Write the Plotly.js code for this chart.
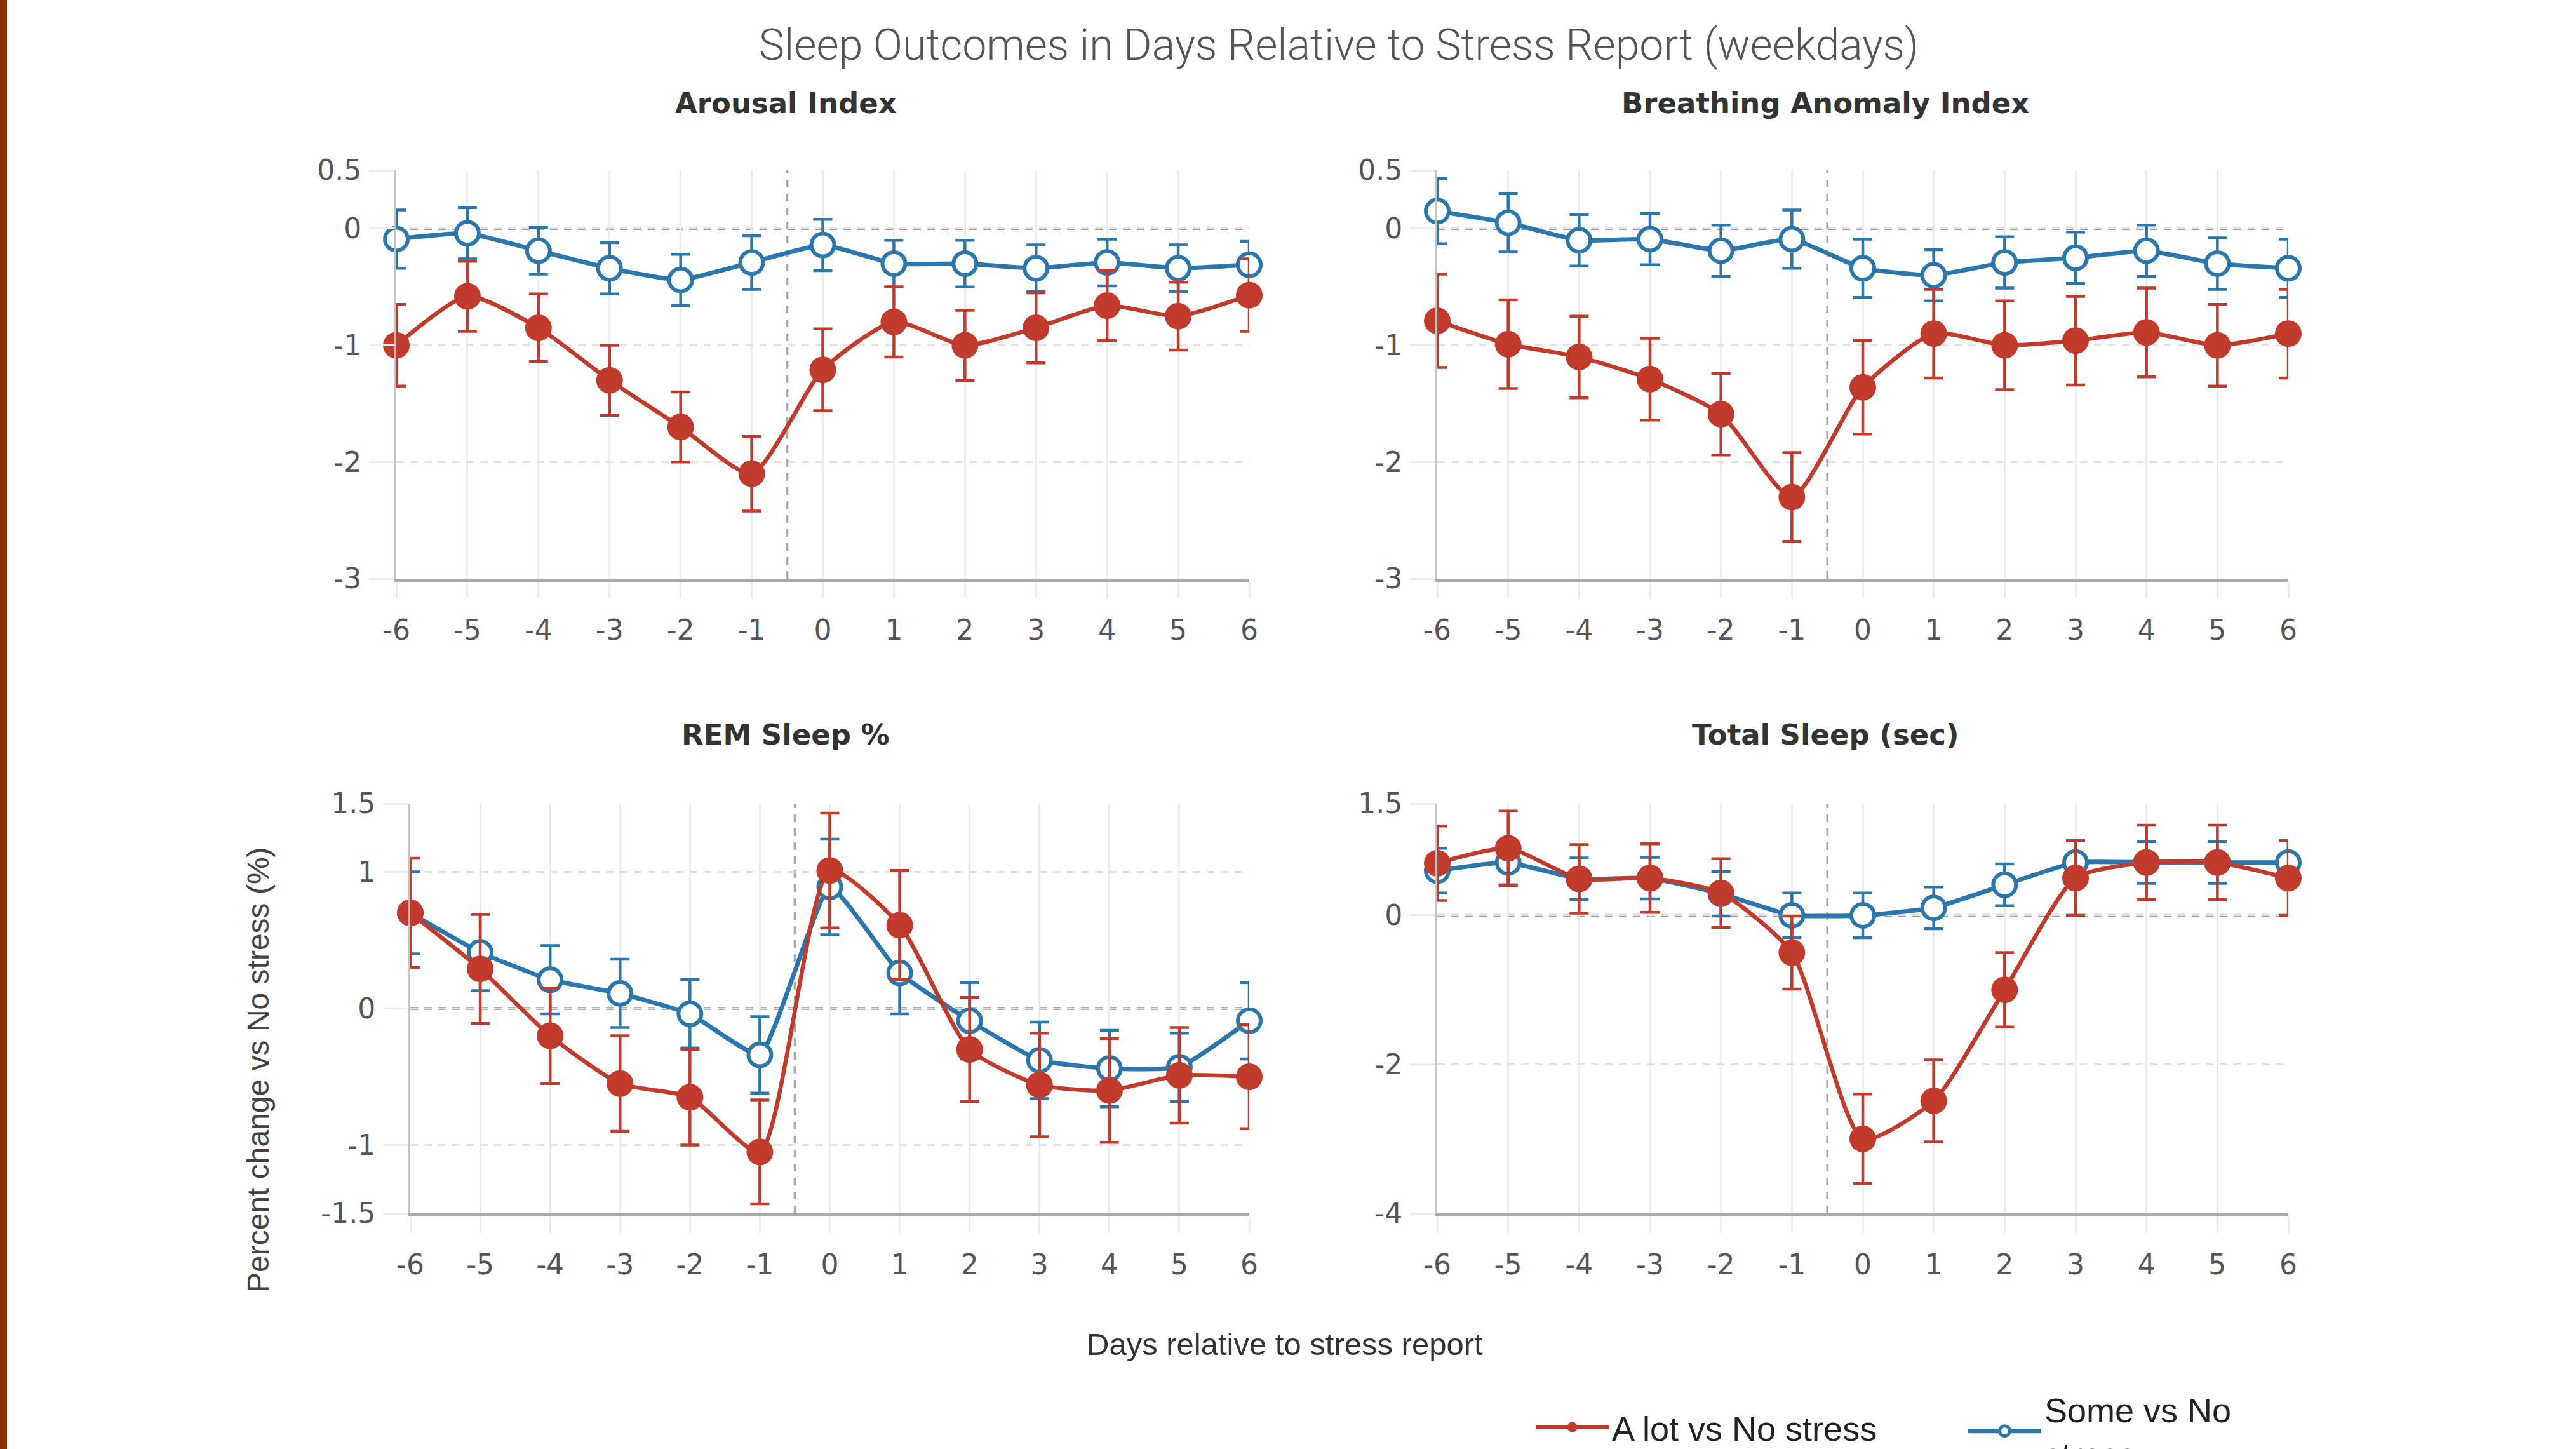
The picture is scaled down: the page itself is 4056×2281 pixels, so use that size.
<!DOCTYPE html>
<html>
<head>
<meta charset="utf-8">
<script src="https://cdn.plot.ly/plotly-3.0.1.min.js"></script>
<style>html,body{margin:0;padding:0;background:#fff;}#chart{width:4056px;height:2281px;}</style>
</head>
<body>
<div id="chart"></div>
<script>
// ---------- data ----------
const days = [-6, -5, -4, -3, -2, -1, 0, 1, 2, 3, 4, 5, 6];
const dayLabels = ["-6", "-5", "-4", "-3", "-2", "-1", "0", "1", "2", "3", "4", "5", "6"];

const panelTitles = ["Arousal Index", "Breathing Anomaly Index", "REM Sleep %", "Total Sleep (sec)"];
const seriesNames = ["A lot vs No stress", "Some vs No<br>stress"];

const arousalAlot    = [-1.00, -0.58, -0.85, -1.30, -1.70, -2.10, -1.21, -0.80, -1.00, -0.85, -0.66, -0.75, -0.57];
const arousalAlotErr = [0.35, 0.30, 0.29, 0.30, 0.30, 0.32, 0.35, 0.30, 0.30, 0.30, 0.30, 0.29, 0.31];
const arousalSome    = [-0.09, -0.04, -0.19, -0.34, -0.44, -0.29, -0.14, -0.30, -0.30, -0.34, -0.29, -0.34, -0.31];
const arousalSomeErr = [0.25, 0.22, 0.20, 0.22, 0.22, 0.23, 0.22, 0.20, 0.20, 0.20, 0.20, 0.20, 0.20];

const breathAlot    = [-0.79, -0.99, -1.10, -1.29, -1.59, -2.30, -1.36, -0.90, -1.00, -0.96, -0.89, -1.00, -0.90];
const breathAlotErr = [0.40, 0.38, 0.35, 0.35, 0.35, 0.38, 0.40, 0.38, 0.38, 0.38, 0.38, 0.35, 0.38];
const breathSome    = [0.15, 0.05, -0.10, -0.09, -0.19, -0.09, -0.34, -0.40, -0.29, -0.25, -0.19, -0.30, -0.34];
const breathSomeErr = [0.28, 0.25, 0.22, 0.22, 0.22, 0.25, 0.25, 0.22, 0.22, 0.22, 0.22, 0.22, 0.25];

const remAlot    = [0.70, 0.29, -0.20, -0.55, -0.65, -1.05, 1.01, 0.61, -0.30, -0.56, -0.60, -0.49, -0.50];
const remAlotErr = [0.40, 0.40, 0.35, 0.35, 0.35, 0.38, 0.42, 0.40, 0.38, 0.38, 0.38, 0.35, 0.38];
const remSome    = [0.70, 0.41, 0.21, 0.11, -0.04, -0.34, 0.89, 0.26, -0.09, -0.38, -0.44, -0.43, -0.09];
const remSomeErr = [0.30, 0.28, 0.25, 0.25, 0.25, 0.28, 0.35, 0.30, 0.28, 0.28, 0.28, 0.25, 0.28];

const sleepAlot    = [0.70, 0.90, 0.49, 0.50, 0.30, -0.50, -3.00, -2.49, -1.00, 0.50, 0.71, 0.71, 0.50];
const sleepAlotErr = [0.50, 0.50, 0.46, 0.46, 0.46, 0.49, 0.60, 0.55, 0.50, 0.50, 0.50, 0.50, 0.50];
const sleepSome    = [0.60, 0.71, 0.49, 0.50, 0.29, 0.00, 0.00, 0.10, 0.41, 0.71, 0.71, 0.71, 0.71];
const sleepSomeErr = [0.30, 0.30, 0.28, 0.28, 0.30, 0.30, 0.30, 0.28, 0.28, 0.30, 0.28, 0.28, 0.30];

const yTicks1 = [0.5, 0, -1, -2, -3];
const yTickText1 = ["0.5", "0", "-1", "-2", "-3"];
const yTicks3 = [1.5, 1, 0, -1, -1.5];
const yTickText3 = ["1.5", "1", "0", "-1", "-1.5"];
const yTicks4 = [1.5, 0, -2, -4];
const yTickText4 = ["1.5", "0", "-2", "-4"];

const stressDayLine = -0.5;   // vertical reference line
const baseline = 0;           // horizontal reference line

// ---------- styling ----------
const W = 4056, H = 2281;
const RED = "#c23a2b";
const BLUE = "#2b76ad";
const DASH = "12px,10px";

const panels = [
  {alot: arousalAlot, alotErr: arousalAlotErr, some: arousalSome, someErr: arousalSomeErr,
   xs: "x", ys: "y", range: [-3, 0.5], tv: yTicks1, tt: yTickText1,
   xd: [624, 1967], yd: [268, 911], title: [1237, 163]},
  {alot: breathAlot, alotErr: breathAlotErr, some: breathSome, someErr: breathSomeErr,
   xs: "x2", ys: "y2", range: [-3, 0.5], tv: yTicks1, tt: yTickText1,
   xd: [2263, 3603], yd: [268, 911], title: [2874, 163]},
  {alot: remAlot, alotErr: remAlotErr, some: remSome, someErr: remSomeErr,
   xs: "x3", ys: "y3", range: [-1.5, 1.5], tv: yTicks3, tt: yTickText3,
   xd: [646, 1967], yd: [1265, 1910], title: [1237, 1156]},
  {alot: sleepAlot, alotErr: sleepAlotErr, some: sleepSome, someErr: sleepSomeErr,
   xs: "x4", ys: "y4", range: [-4, 1.5], tv: yTicks4, tt: yTickText4,
   xd: [2263, 3603], yd: [1265, 1910], title: [2874, 1156]}
];

const legendFont = {family: "Liberation Sans", size: 54, color: "#222"};

const traces = [];
const layout = {
  width: W, height: H,
  margin: {l: 0, r: 0, t: 0, b: 0, autoexpand: false},
  paper_bgcolor: "#ffffff",
  plot_bgcolor: "#ffffff",
  font: {family: "DejaVu Sans", color: "#555"},
  showlegend: true,
  hovermode: false,
  title: {
    text: "Sleep Outcomes in Days Relative to Stress Report (weekdays)",
    font: {family: "Roboto", size: 68, color: "#555", weight: 300},
    x: 2108 / W, xanchor: "center", y: 1 - 70 / H, yanchor: "middle"
  },
  legend: {
    orientation: "h",
    x: 2413 / W, xanchor: "left",
    y: 1 - 2247 / H, yanchor: "middle",
    font: legendFont, itemwidth: 115, itemsizing: "trace",
    bgcolor: "rgba(0,0,0,0)"
  },
  legend2: {
    orientation: "h",
    x: 3094 / W, xanchor: "left",
    y: 1 - 2253 / H, yanchor: "middle",
    font: legendFont, itemwidth: 115, itemsizing: "trace", valign: "middle",
    bgcolor: "rgba(0,0,0,0)"
  },
  annotations: [],
  shapes: [
    {type: "rect", xref: "paper", yref: "paper", x0: 0, x1: 11 / W, y0: 0, y1: 1,
     fillcolor: "#8a2f0b", line: {width: 0}, layer: "above"}
  ]
};

panels.forEach((p, i) => {
  const n = i === 0 ? "" : String(i + 1);
  // blue first so red sits on top
  traces.push({
    type: "scatter", mode: "lines+markers", x: days, y: p.some,
    xaxis: p.xs, yaxis: p.ys, name: seriesNames[1], legendgroup: "some", legend: "legend2",
    showlegend: i === 0, cliponaxis: false,
    line: {color: BLUE, width: 7, shape: "spline", smoothing: 0.4},
    marker: {symbol: "circle", size: 36, color: "#ffffff", line: {color: BLUE, width: 6}},
    error_y: {type: "data", array: p.someErr, visible: true, color: BLUE, thickness: 4.5, width: 15}
  });
  traces.push({
    type: "scatter", mode: "lines+markers", x: days, y: p.alot,
    xaxis: p.xs, yaxis: p.ys, name: seriesNames[0], legendgroup: "alot", legend: "legend",
    showlegend: i === 0, cliponaxis: false,
    line: {color: RED, width: 6.5, shape: "spline", smoothing: 0.6},
    marker: {symbol: "circle", size: 42, color: RED},
    error_y: {type: "data", array: p.alotErr, visible: true, color: RED, thickness: 4.5, width: 15}
  });

  layout["xaxis" + n] = {
    domain: [p.xd[0] / W, p.xd[1] / W],
    anchor: "y" + n,
    range: [-6, 6],
    tickvals: days, ticktext: dayLabels,
    showgrid: true, gridcolor: "#ececec", gridwidth: 3,
    zeroline: false,
    showline: true, linecolor: "#a9a9a9", linewidth: 5,
    ticks: "outside", ticklen: 26, tickwidth: 3, tickcolor: "#ececec",
    ticklabelstandoff: 12,
    tickfont: {family: "DejaVu Sans", size: 44, color: "#555"},
    fixedrange: true
  };
  layout["yaxis" + n] = {
    domain: [1 - p.yd[1] / H, 1 - p.yd[0] / H],
    anchor: "x" + n,
    range: p.range,
    tickvals: p.tv, ticktext: p.tt,
    showgrid: true, gridcolor: "#e2e2e2", gridwidth: 3, griddash: DASH,
    zeroline: false,
    showline: true, linecolor: "#c4c4c4", linewidth: 3,
    ticks: "outside", ticklen: 40, tickwidth: 3, tickcolor: "#ececec",
    ticklabelstandoff: 3,
    tickfont: {family: "DejaVu Sans", size: 44, color: "#555"},
    fixedrange: true
  };

  layout.shapes.push({
    type: "line", xref: "x" + n, yref: "y" + n + " domain",
    x0: stressDayLine, x1: stressDayLine, y0: 0, y1: 1,
    line: {color: "#a8a8a8", width: 3.5, dash: DASH}, layer: "below"
  });
  layout.shapes.push({
    type: "line", xref: "x" + n + " domain", yref: "y" + n,
    x0: 0, x1: 1, y0: baseline, y1: baseline,
    line: {color: "#999999", width: 4.5, dash: DASH}, layer: "below"
  });

  layout.annotations.push({
    text: "<b>" + panelTitles[i] + "</b>",
    xref: "paper", yref: "paper",
    x: p.title[0] / W, y: 1 - p.title[1] / H,
    xanchor: "center", yanchor: "middle", showarrow: false,
    font: {family: "DejaVu Sans", size: 45, color: "#333"}
  });
});

layout.annotations.push({
  text: "Percent change vs No stress (%)",
  xref: "paper", yref: "paper", x: 406 / W, y: 1 - 1684 / H,
  xanchor: "center", yanchor: "middle", textangle: -90, showarrow: false,
  font: {family: "Liberation Sans", size: 48, color: "#444"}
});
layout.annotations.push({
  text: "Days relative to stress report",
  xref: "paper", yref: "paper", x: 2023 / W, y: 1 - 2116 / H,
  xanchor: "center", yanchor: "middle", showarrow: false,
  font: {family: "Liberation Sans", size: 49, color: "#333"}
});

Plotly.newPlot("chart", traces, layout, {staticPlot: true, displayModeBar: false});
</script>
</body>
</html>
